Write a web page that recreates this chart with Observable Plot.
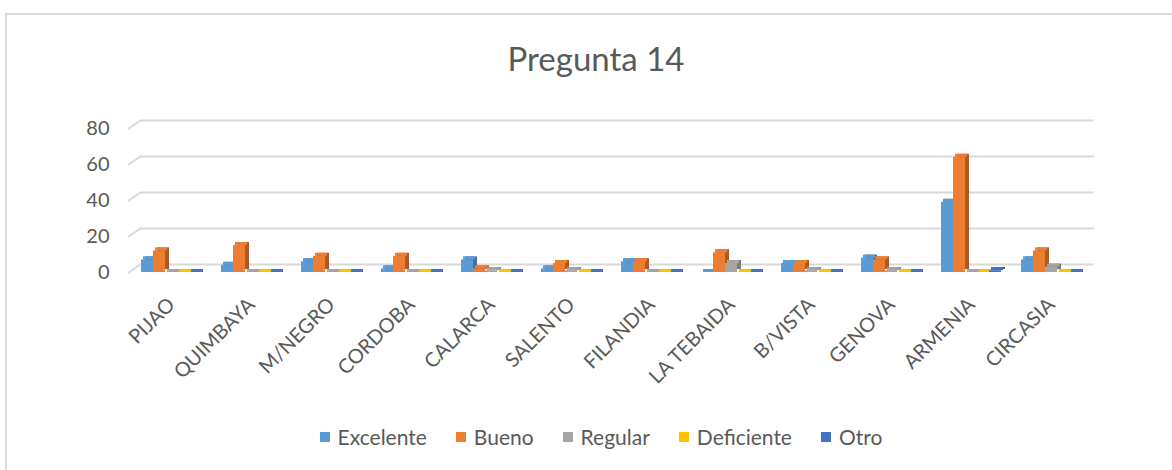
<!DOCTYPE html>
<html>
<head>
<meta charset="utf-8">
<script src="https://cdn.jsdelivr.net/npm/d3@7"></script>
<script src="https://cdn.jsdelivr.net/npm/@observablehq/plot@0.6"></script>
<style>
  html, body { margin: 0; padding: 0; background: #fff; width: 1172px; height: 470px; overflow: hidden; }
  body { position: relative; font-family: Lato, "Liberation Sans", sans-serif; color: #595959; }
  #frame { position: absolute; left: 5px; top: 13px; width: 1300px; height: 600px;
           border-left: 2px solid #d9d9d9; border-top: 2px solid #d9d9d9; }
  #title { position: absolute; left: 0; top: 42px; width: 1192px; text-align: center;
           font-size: 33px; line-height: 1; color: #595959; }
  #chart { position: absolute; left: 0; top: 0; }
  #legend { position: absolute; left: 0; top: 425px; width: 1202px; display: flex; justify-content: center;
            gap: 29px; font-size: 21px; line-height: 24px; color: #595959; }
  #legend .item { display: flex; align-items: center; gap: 8px; }
  #legend .sw { width: 10px; height: 10px; display: inline-block; }
</style>
</head>
<body>
<div id="frame"></div>
<div id="title">Pregunta 14</div>
<div id="chart"></div>
<div id="legend"></div>
<script>
const cities = ["PIJAO","QUIMBAYA","M/NEGRO","CORDOBA","CALARCA","SALENTO","FILANDIA","LA TEBAIDA","B/VISTA","GENOVA","ARMENIA","CIRCASIA"];
const series = ["Excelente","Bueno","Regular","Deficiente","Otro"];
const excelente  = [7, 4, 6, 2, 7, 2, 6, 0, 5, 8, 39, 7];
const bueno      = [12, 15, 9, 9, 2, 5, 6, 11, 5, 7, 64, 12];
const regular    = [0, 0, 0, 0, 1, 1, 0, 5, 1, 1, 0, 3];
const deficiente = [0, 0, 0, 0, 0, 0, 0, 0, 0, 0, 0, 0];
const otro       = [0, 0, 0, 0, 0, 0, 0, 0, 0, 0, 1, 0];
const yTicks = [0, 20, 40, 60, 80];

const colors = ["#5B9BD5", "#ED7D31", "#A5A5A5", "#FFC000", "#4472C4"];
const darks  = ["#41719C", "#AE5A21", "#7C7C7C", "#BC8C00", "#2F528F"];
const values = [excelente, bueno, regular, deficiente, otro];

const barW = 12;
const marks = [
  Plot.ruleY(yTicks, {stroke: "#d9d9d9", strokeWidth: 2, dx: 12, dy: -8, insetRight: 12}),
  Plot.vector(yTicks, {
    y: d => d, frameAnchor: "left", length: 14.4, rotate: 56.3, anchor: "start",
    stroke: "#d9d9d9", strokeWidth: 2,
    shape: {draw(ctx, l) { ctx.moveTo(0, 0); ctx.lineTo(0, -l); }}
  })
];
series.forEach((s, i) => {
  const rows = cities.map((c, j) => ({city: c, series: s, value: values[i][j]}));
  const inset = {insetLeft: barW * i, insetRight: barW * (series.length - 1 - i)};
  marks.push(Plot.barY(rows, {x: "city", y: "value", fill: darks[i], dx: 4, dy: -3, ...inset}));
  marks.push(Plot.barY(rows, {x: "city", y1: "value", y2: "value", fill: colors[i], dx: 2, insetTop: -3, ...inset}));
  marks.push(Plot.barY(rows, {x: "city", y: "value", fill: colors[i], ...inset}));
});

const chart = Plot.plot({
  width: 1172,
  height: 400,
  marginLeft: 128,
  marginRight: 78,
  marginTop: 128,
  marginBottom: 128,
  style: {fontFamily: "Lato, 'Liberation Sans', sans-serif", fontSize: "20px", color: "#595959", background: "transparent", overflow: "visible"},
  x: {domain: cities, paddingInner: 0.25, paddingOuter: 0.1625, tickSize: 0, tickRotate: -45, tickPadding: 29, label: null},
  y: {domain: [0, 80], ticks: yTicks, tickSize: 0, tickPadding: 19, label: null},
  marks
});
document.getElementById("chart").appendChild(chart);

const legend = document.getElementById("legend");
series.forEach((s, i) => {
  const item = document.createElement("span");
  item.className = "item";
  const sw = document.createElement("span");
  sw.className = "sw";
  sw.style.background = colors[i];
  item.appendChild(sw);
  item.appendChild(document.createTextNode(s));
  legend.appendChild(item);
});
</script>
</body>
</html>
